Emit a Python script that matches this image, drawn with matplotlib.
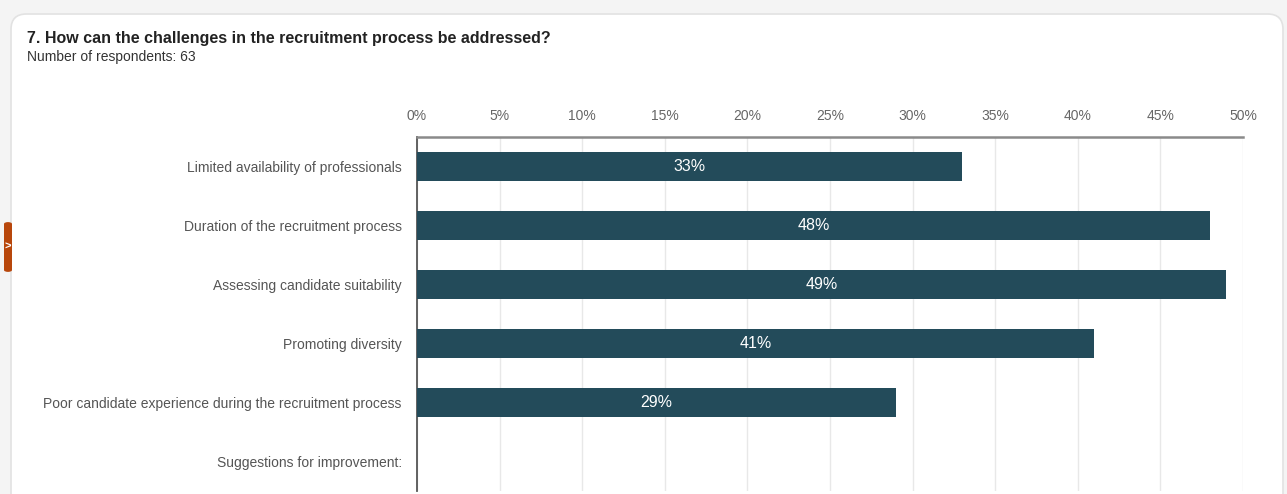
import matplotlib.pyplot as plt
from matplotlib.patches import FancyBboxPatch
from matplotlib.ticker import FuncFormatter

plt.rcParams['font.family'] = ['Liberation Sans', 'DejaVu Sans']

categories = [
    'Limited availability of professionals',
    'Duration of the recruitment process',
    'Assessing candidate suitability',
    'Promoting diversity',
    'Poor candidate experience during the recruitment process',
    'Suggestions for improvement:',
]
shares = [33, 48, 49, 41, 29, None]
ticks = [0, 5, 10, 15, 20, 25, 30, 35, 40, 45, 50]

W, H = 1287, 494
fig = plt.figure(figsize=(W / 100, H / 100), dpi=100)
fig.patch.set_facecolor('#f4f4f4')

# white card behind the chart
card = FancyBboxPatch((11 / W, -0.1), 1272 / W, (H - 14) / H + 0.1,
                      boxstyle='round,pad=0,rounding_size=0.012',
                      transform=fig.transFigure, facecolor='white',
                      edgecolor='#e2e2e2', linewidth=1.2, zorder=0,
                      mutation_aspect=W / H)
fig.patches.append(card)

# orange side tab
tab = FancyBboxPatch((4 / W, 222 / H), 8 / W, 50 / H,
                     boxstyle='round,pad=0,rounding_size=0.004',
                     transform=fig.transFigure, facecolor='#b8470c',
                     edgecolor='none', zorder=1)
fig.patches.append(tab)
fig.text(8 / W, 1 - 247 / H, '>', color='white', fontsize=8,
         ha='center', va='center', fontweight='bold')

fig.text(27 / W, 1 - 38 / H, '7. How can the challenges in the recruitment process be addressed?',
         fontsize=11.5, fontweight='bold', color='#222222', va='center')
fig.text(27 / W, 1 - 57 / H, 'Number of respondents: 63',
         fontsize=10, color='#333333', va='center')

ax = fig.add_axes([417 / W, 1 - 491 / H, 826 / W, 354 / H])
ax.set_zorder(3)
ax.set_facecolor('white')

y = list(range(len(categories)))
vals = [v if v is not None else 0 for v in shares]
ax.barh(y, vals, height=0.49, color='#234b5a', zorder=3)
for yi, v in zip(y, shares):
    if v:
        ax.text(v / 2, yi, f'{v}%', color='white', fontsize=11.5,
                ha='center', va='center', zorder=4)

ax.set_xlim(0, 50)
ax.set_ylim(len(categories) - 0.5, -0.5)
ax.set_xticks(ticks)
ax.xaxis.set_major_formatter(FuncFormatter(lambda x, _: f'{x:.0f}%'))
ax.xaxis.tick_top()
ax.tick_params(axis='x', length=0, pad=10, labelsize=10, labelcolor='#666666')
ax.set_yticks(y)
ax.set_yticklabels(categories)
ax.tick_params(axis='y', length=0, pad=11, labelsize=10, labelcolor='#555555')
ax.grid(axis='x', color='#e8e8e8', linewidth=1, zorder=0)

for s in ('right', 'bottom'):
    ax.spines[s].set_visible(False)
ax.spines['top'].set_color('#8a8a8a')
ax.spines['top'].set_linewidth(1.8)
ax.spines['left'].set_color('#555555')
ax.spines['left'].set_linewidth(1.3)

fig.savefig('out.png', dpi=100, facecolor=fig.get_facecolor())
